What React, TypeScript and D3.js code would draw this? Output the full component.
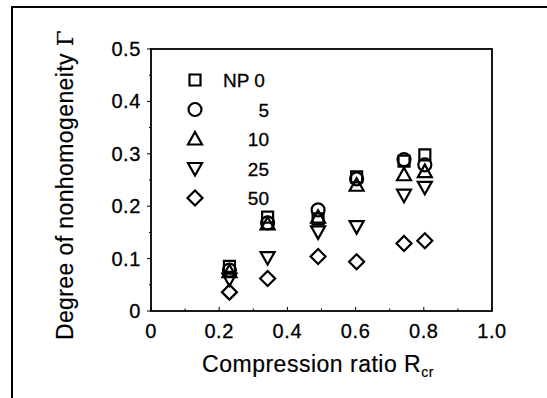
import React from "react";
import * as d3 from "d3";

const ratios = [0.23, 0.342, 0.49, 0.603, 0.742, 0.803];
const np0 = [0.085, 0.179, 0.176, 0.256, 0.286, 0.298];
const np5 = [0.078, 0.168, 0.193, 0.252, 0.289, 0.279];
const np10 = [0.075, 0.166, 0.179, 0.24, 0.26, 0.266];
const np25 = [0.061, 0.102, 0.151, 0.161, 0.221, 0.236];
const np50 = [0.036, 0.062, 0.104, 0.094, 0.129, 0.134];
const legendLabels = ["NP 0", "5", "10", "25", "50"];
const shapes = ["square", "circle", "triangle", "down", "diamond"];
const xTicks = [0, 0.2, 0.4, 0.6, 0.8, 1.0];
const yTicks = [0, 0.1, 0.2, 0.3, 0.4, 0.5];

const W = 547, H = 398;
const L = 151, R = 492, T = 49, B = 311;
const FONT = "'Liberation Sans', Arial, sans-serif";

function markerPath(shape: string, cx: number, cy: number): string {
  const p = d3.path();
  if (shape === "square") {
    const s = 5.5;
    p.rect(cx - s, cy - s, 2 * s, 2 * s);
  } else if (shape === "circle") {
    p.moveTo(cx + 6.5, cy);
    p.arc(cx, cy, 6.5, 0, Math.PI * 2);
  } else if (shape === "triangle") {
    p.moveTo(cx, cy - 7);
    p.lineTo(cx + 7, cy + 5.5);
    p.lineTo(cx - 7, cy + 5.5);
    p.closePath();
  } else if (shape === "down") {
    p.moveTo(cx, cy + 7);
    p.lineTo(cx + 7, cy - 5.5);
    p.lineTo(cx - 7, cy - 5.5);
    p.closePath();
  } else {
    p.moveTo(cx, cy - 7.5);
    p.lineTo(cx + 7.5, cy);
    p.lineTo(cx, cy + 7.5);
    p.lineTo(cx - 7.5, cy);
    p.closePath();
  }
  return p.toString();
}

export default function App() {
  const x = d3.scaleLinear().domain([0, 1]).range([L, R]);
  const y = d3.scaleLinear().domain([0, 0.5]).range([B, T]);
  const series = [np0, np5, np10, np25, np50];
  const legY = d3.scaleLinear().domain([0, 4]).range([80, 198]);
  const minorX = d3.range(0, 1.0001, 0.1);
  const minorY = d3.range(0, 0.5001, 0.05);

  return (
    <svg width={W} height={H} style={{ position: "absolute", left: 0, top: 0, background: "#fff" }}>
      <rect x={0} y={0} width={W} height={H} fill="#fff" />
      {/* outer frame */}
      <path d={`M12,${H}V7H${W}`} fill="none" stroke="#000" strokeWidth={2} />
      {/* plot frame */}
      <rect x={L} y={T} width={R - L} height={B - T} fill="none" stroke="#000" strokeWidth={1.8} />
      {/* ticks */}
      {minorX.map((v, i) => (
        <line key={"tx" + i} x1={x(v)} x2={x(v)} y1={B} y2={B - (i % 2 === 0 ? 4 : 2.5)} stroke="#000" strokeWidth={1} />
      ))}
      {minorY.map((v, i) => (
        <line key={"ty" + i} x1={L} x2={L - (i % 2 === 0 ? 4 : 2)} y1={y(v)} y2={y(v)} stroke="#000" strokeWidth={1} />
      ))}
      {xTicks.map((v) => (
        <text key={"xl" + v} x={x(v)} y={338} textAnchor="middle" fontFamily={FONT} fontSize={20} letterSpacing={0.6} stroke="#000" strokeWidth={0.3}>
          {v === 0 ? "0" : v.toFixed(1)}
        </text>
      ))}
      {yTicks.map((v) => (
        <text key={"yl" + v} x={141} y={y(v) + 7} textAnchor="end" fontFamily={FONT} fontSize={20} letterSpacing={0.6} stroke="#000" strokeWidth={0.3}>
          {v === 0 ? "0" : v.toFixed(1)}
        </text>
      ))}
      {/* data */}
      {series.map((s, si) =>
        s.map((v, i) => (
          <path key={`m${si}-${i}`} d={markerPath(shapes[si], x(ratios[i]), y(v))} fill="none" stroke="#000" strokeWidth={2.2} />
        ))
      )}
      {/* legend */}
      {legendLabels.map((lab, i) => (
        <g key={"lg" + i}>
          <path d={markerPath(shapes[i], 195, legY(i))} fill="none" stroke="#000" strokeWidth={2.2} />
          <text
            x={i === 0 ? 223 : 269}
            y={legY(i) + 7}
            textAnchor={i === 0 ? "start" : "end"}
            fontFamily={FONT}
            fontSize={19}
            stroke="#000"
            strokeWidth={0.3}
          >
            {lab}
          </text>
        </g>
      ))}
      {/* axis labels */}
      <text x={318} y={372} textAnchor="middle" fontFamily={FONT} fontSize={23} letterSpacing={0.5} stroke="#000" strokeWidth={0.2}>
        Compression ratio R
        <tspan fontSize={14} dy={5}>cr</tspan>
      </text>
      <text transform={`translate(73,185) rotate(-90)`} textAnchor="middle" fontFamily={FONT} fontSize={23} letterSpacing={0.4} stroke="#000" strokeWidth={0.2}>
        Degree of nonhomogeneity{"  "}
        <tspan fontFamily="'DejaVu Serif', serif">Γ</tspan>
      </text>
    </svg>
  );
}
